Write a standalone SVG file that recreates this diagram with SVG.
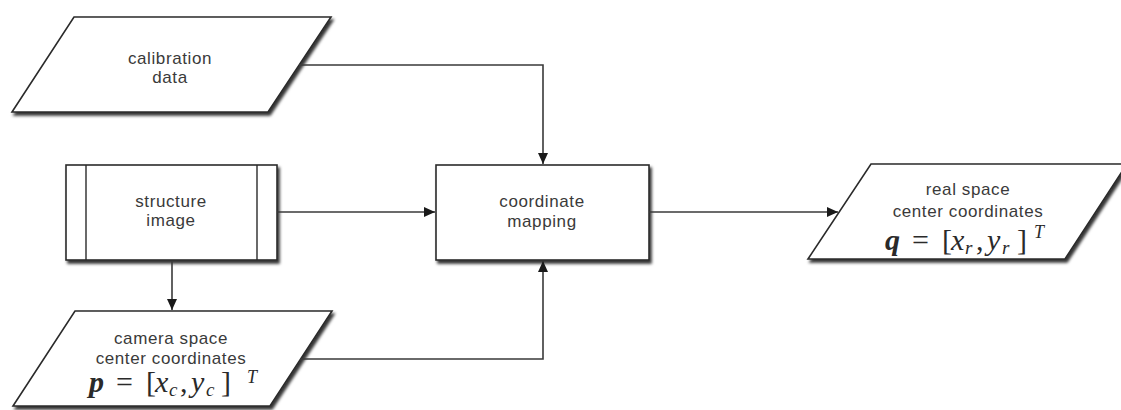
<svg xmlns="http://www.w3.org/2000/svg" width="1121" height="410" viewBox="0 0 1121 410">
<style>
.shape{fill:#fff;stroke:#2a2a2a;stroke-width:1.6;filter:url(#sh)}
.inner{fill:none;stroke:#2a2a2a;stroke-width:1.4}
.lbl{font-family:"Liberation Sans",Arial,sans-serif;font-size:17px;fill:#3a3a3a;text-anchor:middle;letter-spacing:0.6px}
.math{font-family:"Liberation Serif","DejaVu Serif",serif;font-size:30px;fill:#2a2a2a;font-style:italic}
.up{font-style:normal}
.sub{font-size:19px}
.sup{font-size:18px}
.conn{fill:none;stroke:#3a3a3a;stroke-width:1.6}
</style>
<defs>
<filter id="sh" x="-10%" y="-10%" width="130%" height="140%">
<feDropShadow dx="2" dy="3" stdDeviation="1.6" flood-color="#000" flood-opacity="0.8"/>
</filter>
<marker id="arr" markerUnits="userSpaceOnUse" markerWidth="12" markerHeight="10" refX="11" refY="5" orient="auto">
<path d="M0,0 L11,5 L0,10 Z" fill="#1a1a1a"/>
</marker>
</defs>
<rect width="1121" height="410" fill="#fff"/>

<g id="calibration">
<polygon class="shape" points="74,17 331,17 268,112 12,112"/>
<text class="lbl" x="170" y="64">calibration</text>
<text class="lbl" x="170" y="83">data</text>
</g>

<g id="structure">
<rect class="shape" x="66" y="165" width="211" height="95"/>
<line class="inner" x1="86" y1="165" x2="86" y2="260"/>
<line class="inner" x1="257" y1="165" x2="257" y2="260"/>
<text class="lbl" x="171" y="207">structure</text>
<text class="lbl" x="171" y="226">image</text>
</g>

<g id="mapping">
<rect class="shape" x="436" y="165" width="213" height="95"/>
<text class="lbl" x="542" y="207">coordinate</text>
<text class="lbl" x="542" y="227">mapping</text>
</g>

<g id="camera">
<polygon class="shape" points="75,311 332,311 270,406 13,406"/>
<text class="lbl" x="171" y="344">camera space</text>
<text class="lbl" x="171" y="364">center coordinates</text>
<text class="math" y="392"><tspan x="89" font-weight="bold">p</tspan><tspan class="up" x="116">=</tspan><tspan class="up" x="146">[</tspan><tspan x="155">x</tspan><tspan class="sub" x="169" dy="4">c</tspan><tspan class="up" x="180" dy="-4">,</tspan><tspan x="191">y</tspan><tspan class="sub" x="206" dy="4">c</tspan><tspan class="up" x="221" dy="-4">]</tspan><tspan class="sup" x="247" dy="-9">T</tspan></text>
</g>

<g id="realspace">
<polygon class="shape" points="871,164 1127,164 1065,259 808,259"/>
<text class="lbl" x="968" y="195">real space</text>
<text class="lbl" x="968" y="217">center coordinates</text>
<text class="math" y="250"><tspan x="885" font-weight="bold">q</tspan><tspan class="up" x="912">=</tspan><tspan class="up" x="942">[</tspan><tspan x="951">x</tspan><tspan class="sub" x="965" dy="4">r</tspan><tspan class="up" x="976" dy="-4">,</tspan><tspan x="987">y</tspan><tspan class="sub" x="1002" dy="4">r</tspan><tspan class="up" x="1017" dy="-4">]</tspan><tspan class="sup" x="1034" dy="-12">T</tspan></text>
</g>

<g id="connectors">
<polyline class="conn" points="299,65 543,65 543,164" marker-end="url(#arr)"/>
<polyline class="conn" points="300,359 543,359 543,261" marker-end="url(#arr)"/>
<line class="conn" x1="277" y1="212" x2="435" y2="212" marker-end="url(#arr)"/>
<line class="conn" x1="172" y1="261" x2="172" y2="310" marker-end="url(#arr)"/>
<line class="conn" x1="649" y1="212" x2="838" y2="212" marker-end="url(#arr)"/>
</g>
</svg>
